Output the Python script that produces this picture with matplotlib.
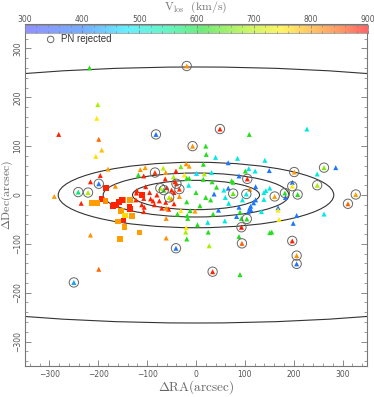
import matplotlib
matplotlib.use("Agg")
import matplotlib.pyplot as plt
import numpy as np
from matplotlib.colors import LinearSegmentedColormap, Normalize
from matplotlib.patches import Ellipse
from matplotlib.ticker import MultipleLocator

plt.rcParams['mathtext.fontset'] = 'cm'

# ---- data: triangles (RA, Dec, V_los) ----
tri_ra = [-218, -19, -201, -203, -281, -199, -193, -205, -82, 49, 109, 227, -7, 20, 21, 40, 85, 141,
          66, 150, 262, 286, 248, 201, 197, 197, 248, 327, 311, 161, 182, 208, 183, 151, 143, 139,
          139, 168, 168, 134, 170, 206, 262, 199, 151, 155, 197, 206, 206, 34, 90, 94, 93, 88, 27,
          25, -19, -21, -20, 3, 24, 59, -61, -41, -250, -199, -216, -290, -235, -241, -221, -199,
          -216, -196, -180, -165, -114, -104, -118, -107, -84, -67, -62, -46, -31, -20, -14, -41,
          -24, -19, -14, 1, 17, 15, 15, 33, 88, 101, 108, 121, 105, 73, 76, 122, 32, -15, 42, 57,
          66, 76, 103, 37, 110, -19, 122,
          -63, -43, -40, -34, -73, -66, -55, -88, -75, -85, -70, -56, -103, -122, -121, -123, -107,
          -111, -106, -107, -50, -60, -45, -80, -95, -62, -45, -93,
          -61, -61, -2, -34, -50, -38, -17, -18, -12, 8, -31, 35, 46, 67, 83, 90, 110, 112, 107, 104,
          93, 88, 118, 112, 95, 60, 20, 0, 30]
tri_dec = [260, 264, 185, 157, 124, 114, 92, 79, 124, 135, 124, 135, 100, 100, 83, 77, 75, 71,
           66, 50, 56, 56, 43, 47, 26, 18, 20, 1, -18, -3, 4, 1, -5, 14, 9, 5,
           -9, -26, -31, -34, -50, -42, -39, -58, -77, -76, -94, -124, -141, -157, -163, -99, -66, -85, -104,
           -76, -90, -76, -67, -61, -56, -53, -88, -109, -179, -152, -82, -3, -17, 6, 5, 23,
           27, 40, 53, 18, 52, 56, 41, 39, 46, 55, 46, 37, 58, 64, 59, 49,
           41, 34, 34, 44, 43, 32, 63, 27, 39, 49, 54, 49, 33, 29, 26, 17, 46, 20, 16, 10,
           14, 3, 2, 2, 12, -14, -10,
           33, 27, 23, 12, 14, 10, -5, -12, -12, -20, -27, -29, 17, 4, 9, -10, -7,
           -20, -25, -34, 10, 15, 5, 0, 5, -15, -18, -8,
           -27, -48, -33, -3, -8, -39, -48, -42, -32, -22, -32, -39, -31, -17, -44, -35, -27, -30, -35, -49,
           -48, -25, -16, -23, -10, -5, -5, 5, -10]
tri_v = [620, 810, 690, 750, 880, 840, 780, 760, 400, 880, 620, 500, 810, 620, 620, 500, 500, 500,
         400, 400, 670, 400, 500, 800, 400, 750, 690, 800, 840, 800, 620, 620, 400, 500, 500, 500,
         500, 400, 750, 500, 750, 400, 500, 400, 620, 620, 880, 810, 380, 880, 620, 840, 890, 620, 690,
         620, 620, 690, 750, 620, 500, 500, 810, 400, 430, 840, 810, 800, 880, 570, 690, 400,
         880, 880, 800, 810, 810, 800, 620, 880, 870, 700, 810, 690, 660, 810, 800, 880,
         750, 620, 620, 480, 690, 620, 620, 620, 400, 620, 500, 500, 880, 620, 620, 400, 500, 500, 620, 500,
         400, 650, 500, 400, 810, 620, 400,
         880, 880, 870, 870, 690, 620, 690, 880, 880, 880, 880, 880, 880, 880, 880, 880, 880,
         880, 880, 880, 880, 880, 880, 880, 880, 880, 880, 880,
         810, 810, 800, 810, 810, 620, 620, 620, 620, 620, 750, 620, 400, 500, 400, 620, 400, 400, 400, 620,
         620, 400, 400, 400, 500, 500, 620, 620, 620]

# ---- data: squares (RA, Dec, V_los) ----
sq_ra = [-184, -193, -185, -213, -170, -163, -158, -148, -135, -136, -135, -154, -145, -131, -160,
         -146, -148, -116, -156, -169, -152, -111, -203]
sq_dec = [14, -8, -12, -16, -22, -20, -14, -10, -10, -24, -29, -33, -42, -43, -54, -65, -52, -77,
          -90, -20, -10, 0, -16]
sq_v = [880, 880, 810, 800, 880, 880, 880, 810, 800, 880, 880, 800, 760, 800, 800, 800, 880, 800,
        800, 880, 880, 880, 800]

# ---- data: rejected PNe (circled) ----
rej_ra = [-19, -82, 49, -7, 262, 201, 197, 248, 327, 311, 161, 182, 208, 197, 206, 206, 34, 94, 93,
          -41, -250, -241, -221, -199, -84, 105, 76, 103, -40, -34, -73, -66, -55, 104]
rej_dec = [264, 124, 135, 100, 56, 47, 18, 20, 1, -18, -3, 4, 1, -94, -124, -141, -157, -99, -66,
           -109, -179, 6, 5, 23, 46, 33, 3, 2, 23, 12, 14, 10, -5, -49]

# ---- figure ----
W, H = 374, 397
fig = plt.figure(figsize=(W / 100, H / 100), dpi=100)
ax = fig.add_axes([25 / W, 31 / H, 342 / W, 342 / H])

stops = [(300, '#4a4aff'), (400, '#1a78ff'), (480, '#00e8ff'), (560, '#00ee88'), (610, '#10dd20'),
         (690, '#a8f000'), (750, '#ffee00'), (800, '#ffa000'), (850, '#ff5a00'), (900, '#ff0000')]
cmap = LinearSegmentedColormap.from_list('vlos', [((v - 300) / 600, c) for v, c in stops])
norm = Normalize(300, 900)

ax.scatter(tri_ra, tri_dec, c=tri_v, cmap=cmap, norm=norm, marker='^', s=13, linewidths=0, zorder=3)
ax.scatter(sq_ra, sq_dec, c=sq_v, cmap=cmap, norm=norm, marker='s', s=16, linewidths=0, zorder=3)
ax.scatter(rej_ra, rej_dec, facecolors='none', edgecolors='#666666', marker='o', s=45,
           linewidths=0.7, zorder=4)

for (a, b) in [(130, 30), (190, 45), (282, 67), (1115, 262)]:
    ax.add_patch(Ellipse((0, 0), 2 * a, 2 * b, fill=False, edgecolor='#333333', lw=0.8, zorder=2))

ax.set_xlim(-350, 350)
ax.set_ylim(-350, 350)
ax.xaxis.set_major_locator(MultipleLocator(100))
ax.xaxis.set_minor_locator(MultipleLocator(20))
ax.yaxis.set_major_locator(MultipleLocator(100))
ax.yaxis.set_minor_locator(MultipleLocator(20))
ax.tick_params(which='both', direction='in', top=True, right=True, colors='#777777',
               labelsize=5.5, labelcolor='#555555', pad=3)
ax.tick_params(axis='y', pad=2)
ax.tick_params(which='major', length=4, width=0.6)
ax.tick_params(which='minor', length=2, width=0.5)
for lbl in ax.get_yticklabels():
    lbl.set_rotation(90)
    lbl.set_va('center')
for s in ax.spines.values():
    s.set_color('#777777')
    s.set_linewidth(0.8)

fig.text(196 / W, (H - 387) / H, r'$\Delta\mathrm{RA(arcsec)}$', fontsize=9.5, color='#666666',
         ha='center', va='center')
fig.text(7 / W, (H - 195) / H, r'$\Delta\mathrm{Dec(arcsec)}$', fontsize=8.5, color='#666666',
         ha='center', va='center', rotation=90)

# legend
ax.scatter([0.075], [0.955], transform=ax.transAxes, facecolors='none', edgecolors='#666666',
           marker='o', s=22, linewidths=0.7, clip_on=False, zorder=5)
ax.text(0.105, 0.955, 'PN rejected', transform=ax.transAxes, fontsize=7, color='#333333',
        va='center', ha='left', family='Liberation Sans')

# colorbar
cax = fig.add_axes([25 / W, (H - 33) / H, 343 / W, 8 / H])
grad = np.linspace(300, 900, 600).reshape(1, -1)
cax.imshow(grad, aspect='auto', cmap=cmap, norm=norm, alpha=0.6, extent=[300, 900, 0, 1])
cax.set_xlim(300, 900)
cax.set_yticks([])
cax.xaxis.set_ticks_position('top')
cax.xaxis.set_major_locator(MultipleLocator(100))
cax.xaxis.set_minor_locator(MultipleLocator(20))
cax.tick_params(which='both', direction='in', top=True, bottom=True, colors='#777777',
                labelsize=5.5, labelcolor='#555555', pad=1)
cax.tick_params(which='major', length=2.5, width=0.5)
cax.tick_params(which='minor', length=1.2, width=0.4)
for s in cax.spines.values():
    s.set_color('#888888')
    s.set_linewidth(0.5)
fig.text(196 / W, (H - 7) / H, r'$\mathrm{V_{los}\ \ (km/s)}$', fontsize=8.5, color='#777777',
         ha='center', va='center')

fig.savefig('out.png', dpi=100)
